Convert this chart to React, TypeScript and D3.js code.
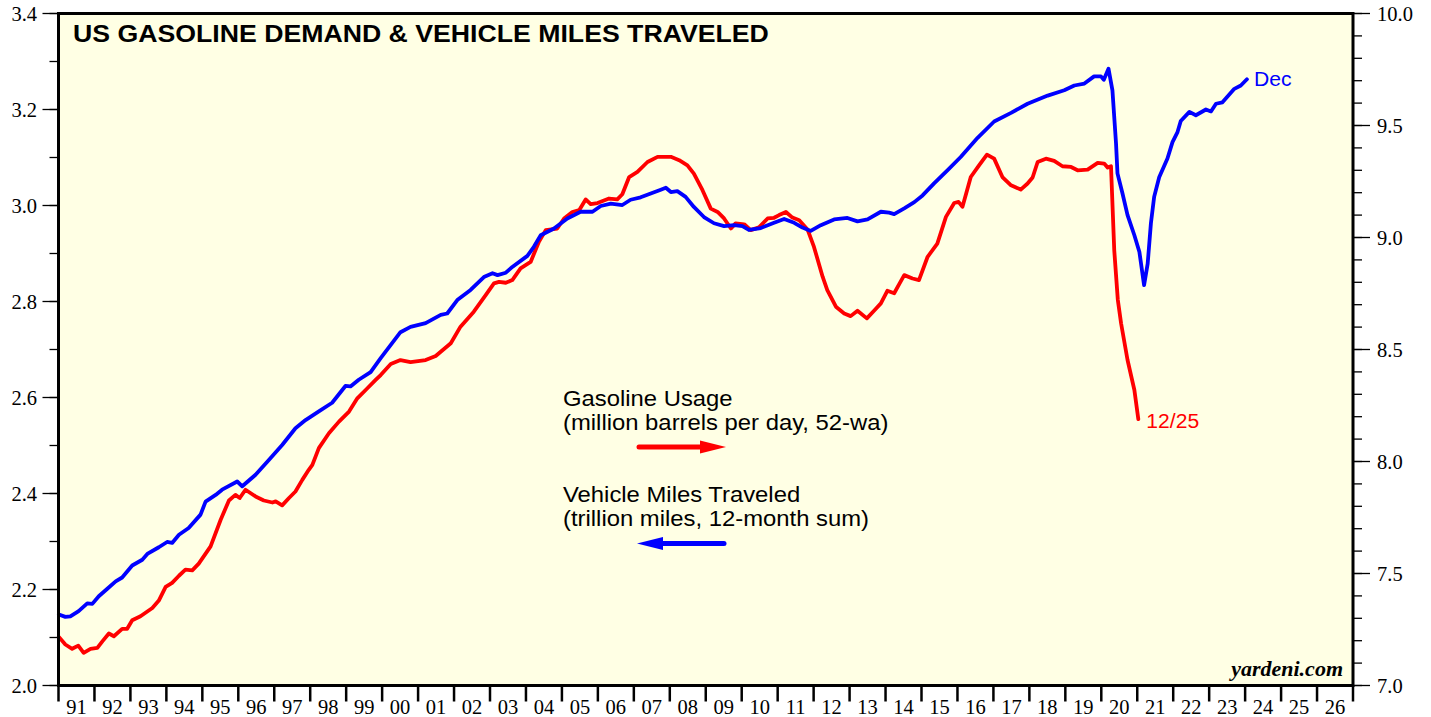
import React from "react";
import * as d3 from "d3";

const yearLabels = ["91","92","93","94","95","96","97","98","99","00","01","02","03","04","05","06","07","08","09","10","11","12","13","14","15","16","17","18","19","20","21","22","23","24","25","26"];
const firstYear = 1991;
const leftMajorTicks = [2.0, 2.2, 2.4, 2.6, 2.8, 3.0, 3.2, 3.4];
const rightMajorTicks = [7.0, 7.5, 8.0, 8.5, 9.0, 9.5, 10.0];

// Vehicle miles traveled (trillion miles, 12-month sum) — left axis
const vmtSeries: [number, number][] = [
  [1991.01,2.148],[1991.19,2.143],[1991.33,2.144],[1991.56,2.155],[1991.80,2.171],[1991.94,2.170],
  [1992.12,2.186],[1992.35,2.201],[1992.59,2.217],[1992.77,2.225],
  [1993.05,2.250],[1993.33,2.262],[1993.47,2.274],[1993.79,2.288],
  [1994.02,2.299],[1994.16,2.297],[1994.35,2.314],[1994.62,2.328],[1994.95,2.356],
  [1995.09,2.383],[1995.37,2.397],[1995.55,2.408],[1995.97,2.425],
  [1996.11,2.415],[1996.48,2.439],[1996.85,2.470],
  [1997.22,2.501],[1997.59,2.536],[1997.87,2.553],
  [1998.24,2.571],[1998.61,2.589],[1998.98,2.624],
  [1999.12,2.623],[1999.35,2.637],[1999.68,2.653],[1999.96,2.682],
  [2000.51,2.736],[2000.79,2.747],
  [2001.21,2.755],[2001.63,2.772],[2001.81,2.775],
  [2002.09,2.803],[2002.46,2.824],[2002.83,2.851],
  [2003.07,2.859],[2003.21,2.855],[2003.44,2.860],[2003.62,2.872],
  [2004.04,2.895],[2004.22,2.914],[2004.41,2.938],[2004.78,2.952],
  [2005.15,2.973],[2005.52,2.987],[2005.85,2.987],
  [2006.08,2.999],[2006.36,3.004],[2006.68,3.001],[2006.91,3.012],
  [2007.19,3.017],[2007.47,3.025],[2007.75,3.033],[2007.89,3.037],
  [2008.03,3.028],[2008.21,3.030],[2008.44,3.018],[2008.67,2.997],[2008.95,2.976],
  [2009.23,2.963],[2009.51,2.957],[2009.79,2.959],
  [2010.02,2.957],[2010.20,2.949],[2010.53,2.953],[2010.90,2.964],
  [2011.18,2.972],[2011.46,2.964],[2011.69,2.954],[2011.92,2.947],
  [2012.20,2.959],[2012.57,2.971],[2012.94,2.974],
  [2013.22,2.967],[2013.50,2.971],[2013.87,2.987],
  [2014.10,2.985],[2014.24,2.982],[2014.52,2.994],[2014.80,3.007],
  [2015.03,3.021],[2015.35,3.046],[2015.72,3.073],
  [2016.09,3.101],[2016.56,3.141],
  [2017.02,3.175],[2017.49,3.193],[2017.95,3.212],
  [2018.51,3.229],[2018.97,3.240],
  [2019.25,3.250],[2019.53,3.254],[2019.80,3.269],[2019.99,3.269],
  [2020.07,3.262],[2020.20,3.285],[2020.31,3.240],[2020.41,3.129],[2020.45,3.067],[2020.59,3.025],[2020.73,2.980],[2020.92,2.938],
  [2021.06,2.903],[2021.19,2.834],[2021.29,2.879],[2021.38,2.963],[2021.47,3.018],[2021.61,3.059],[2021.84,3.098],[2021.98,3.132],
  [2022.12,3.153],[2022.21,3.176],[2022.45,3.195],[2022.63,3.188],[2022.91,3.200],
  [2023.05,3.196],[2023.19,3.212],[2023.37,3.215],[2023.70,3.243],[2023.88,3.250],
  [2024.05,3.263]
];

// Gasoline usage (million barrels per day, 52-wa) — right axis
const gasSeries: [number, number][] = [
  [1991.01,7.217],[1991.19,7.183],[1991.38,7.164],[1991.55,7.178],[1991.70,7.146],[1991.89,7.164],
  [1992.08,7.168],[1992.22,7.197],[1992.40,7.232],[1992.54,7.220],[1992.77,7.253],[1992.91,7.253],
  [1993.05,7.291],[1993.28,7.309],[1993.61,7.346],[1993.79,7.379],[1993.98,7.440],
  [1994.16,7.458],[1994.35,7.490],[1994.53,7.517],[1994.72,7.514],[1994.90,7.544],
  [1995.23,7.621],[1995.51,7.740],[1995.74,7.826],[1995.92,7.851],
  [1996.04,7.837],[1996.20,7.874],[1996.48,7.844],[1996.71,7.826],[1996.95,7.817],
  [1997.04,7.822],[1997.22,7.804],[1997.41,7.837],[1997.59,7.866],[1997.78,7.918],[1997.96,7.963],
  [1998.06,7.985],[1998.24,8.060],[1998.52,8.126],[1998.80,8.178],
  [1999.08,8.223],[1999.31,8.282],[1999.59,8.327],[1999.82,8.364],[1999.96,8.386],
  [2000.24,8.435],[2000.51,8.453],[2000.79,8.444],
  [2001.21,8.453],[2001.49,8.471],[2001.63,8.490],[2001.91,8.528],
  [2002.18,8.602],[2002.55,8.669],[2002.88,8.743],
  [2003.11,8.795],[2003.25,8.802],[2003.44,8.798],[2003.62,8.810],[2003.85,8.862],
  [2004.13,8.891],[2004.36,8.981],[2004.55,9.033],[2004.87,9.040],
  [2005.06,9.085],[2005.29,9.114],[2005.48,9.122],[2005.66,9.170],[2005.80,9.149],[2005.99,9.154],
  [2006.31,9.174],[2006.54,9.170],[2006.68,9.193],[2006.87,9.270],
  [2007.10,9.293],[2007.38,9.337],[2007.66,9.360],
  [2008.03,9.360],[2008.26,9.345],[2008.49,9.322],[2008.67,9.285],[2008.91,9.211],
  [2009.14,9.129],[2009.33,9.114],[2009.51,9.085],[2009.70,9.040],[2009.83,9.063],
  [2010.07,9.059],[2010.25,9.033],[2010.48,9.045],[2010.72,9.085],[2010.90,9.088],
  [2011.04,9.100],[2011.23,9.114],[2011.41,9.089],[2011.60,9.077],[2011.83,9.036],
  [2012.01,8.958],[2012.25,8.825],[2012.38,8.765],[2012.62,8.691],[2012.85,8.661],
  [2013.03,8.649],[2013.22,8.673],[2013.48,8.639],[2013.68,8.673],[2013.87,8.706],
  [2014.05,8.762],[2014.24,8.751],[2014.38,8.792],[2014.52,8.832],[2014.75,8.817],[2014.93,8.810],
  [2015.17,8.914],[2015.44,8.973],[2015.68,9.092],[2015.91,9.154],
  [2016.03,9.159],[2016.14,9.137],[2016.37,9.270],[2016.60,9.322],[2016.82,9.370],
  [2017.02,9.352],[2017.25,9.270],[2017.49,9.233],[2017.76,9.214],[2017.95,9.241],
  [2018.09,9.268],[2018.23,9.337],[2018.46,9.352],[2018.69,9.342],[2018.92,9.318],
  [2019.16,9.315],[2019.34,9.300],[2019.62,9.303],[2019.90,9.333],
  [2020.08,9.330],[2020.18,9.312],[2020.27,9.318],[2020.36,8.944],[2020.46,8.721],[2020.55,8.617],[2020.73,8.453],[2020.92,8.319],
  [2021.03,8.189]
];

const W = 1431;
const H = 717;
const plot = { left: 58.5, right: 1353, top: 13.5, bottom: 685.5 };

const serif = "'Liberation Serif', 'Times New Roman', Times, serif";
const sans = "'Liberation Sans', Arial, Helvetica, sans-serif";

export default function App() {
  const x = d3.scaleLinear().domain([firstYear, firstYear + yearLabels.length]).range([plot.left, plot.right]);
  const yL = d3.scaleLinear().domain([2.0, 3.4]).range([plot.bottom, plot.top]);
  const yR = d3.scaleLinear().domain([7.0, 10.0]).range([plot.bottom, plot.top]);

  const lineL = d3.line<[number, number]>().x(d => x(d[0])).y(d => yL(d[1]));
  const lineR = d3.line<[number, number]>().x(d => x(d[0])).y(d => yR(d[1]));

  const leftMinor = d3.range(0, 15).map(i => 2.0 + i * 0.1);
  const rightMinor = d3.range(0, 31).map(i => 7.0 + i * 0.1);
  const yearTicks = d3.range(firstYear, firstYear + yearLabels.length + 1);

  const vmtLast = vmtSeries[vmtSeries.length - 1];
  const gasLast = gasSeries[gasSeries.length - 1];

  const sx = (px: number, py: number, k: number) => `translate(${px},${py}) scale(${k},1)`;

  return (
    <svg width={W} height={H} style={{ position: "absolute", left: 0, top: 0, background: "#fff" }}>
      <rect x={plot.left} y={plot.top} width={plot.right - plot.left} height={plot.bottom - plot.top} fill="#ffffe4" />

      {/* lines */}
      <path d={lineR(gasSeries) || ""} fill="none" stroke="#ff0000" strokeWidth={3.8} strokeLinejoin="round" strokeLinecap="round" />
      <path d={lineL(vmtSeries) || ""} fill="none" stroke="#0000ff" strokeWidth={3.8} strokeLinejoin="round" strokeLinecap="round" />

      {/* frame */}
      <rect x={plot.left} y={plot.top} width={plot.right - plot.left} height={plot.bottom - plot.top} fill="none" stroke="#000" strokeWidth={3} />

      {/* left axis */}
      {leftMinor.map((v, i) => (
        <line key={"lm" + i} x1={plot.left - 9} x2={plot.left} y1={yL(v)} y2={yL(v)} stroke="#000" strokeWidth={1.3} />
      ))}
      {leftMajorTicks.map(v => (
        <g key={"lM" + v}>
          <line x1={plot.left - 16} x2={plot.left} y1={yL(v)} y2={yL(v)} stroke="#000" strokeWidth={1.3} />
          <text x={37} y={yL(v) + 7} textAnchor="end" fontFamily={serif} fontSize={20.5} fill="#000">{v.toFixed(1)}</text>
        </g>
      ))}

      {/* right axis */}
      {rightMinor.map((v, i) => (
        <line key={"rm" + i} x1={plot.right} x2={plot.right + 9} y1={yR(v)} y2={yR(v)} stroke="#000" strokeWidth={1.3} />
      ))}
      {rightMajorTicks.map(v => (
        <g key={"rM" + v}>
          <line x1={plot.right} x2={plot.right + 17} y1={yR(v)} y2={yR(v)} stroke="#000" strokeWidth={1.3} />
          <text x={1377} y={yR(v) + 7} textAnchor="start" fontFamily={serif} fontSize={20.5} fill="#000">{v.toFixed(1)}</text>
        </g>
      ))}

      {/* bottom axis */}
      {yearTicks.map(t => (
        <line key={"xt" + t} x1={x(t)} x2={x(t)} y1={plot.bottom} y2={plot.bottom + 16} stroke="#000" strokeWidth={2.5} />
      ))}
      {yearLabels.map((lab, i) => (
        <text key={"xl" + lab} x={x(firstYear + i + 0.5)} y={714} textAnchor="middle" fontFamily={serif} fontSize={20.5} fill="#000">{lab}</text>
      ))}

      {/* title */}
      <text transform={sx(73, 42, 1.112)} fontFamily={sans} fontWeight="bold" fontSize={24} fill="#000">US GASOLINE DEMAND &amp; VEHICLE MILES TRAVELED</text>

      {/* legend */}
      <text transform={sx(563, 406, 1.06)} fontFamily={sans} fontSize={22.5} fill="#000">Gasoline Usage</text>
      <text transform={sx(563, 430, 1.06)} fontFamily={sans} fontSize={22.5} fill="#000">(million barrels per day, 52-wa)</text>
      <line x1={639} x2={705} y1={447} y2={447} stroke="#ff0000" strokeWidth={5} strokeLinecap="round" />
      <polygon points="700,440.5 726,447 700,453.5" fill="#ff0000" />

      <text transform={sx(563, 502, 1.06)} fontFamily={sans} fontSize={22.5} fill="#000">Vehicle Miles Traveled</text>
      <text transform={sx(563, 526, 1.06)} fontFamily={sans} fontSize={22.5} fill="#000">(trillion miles, 12-month sum)</text>
      <line x1={658} x2={724} y1={543.5} y2={543.5} stroke="#0000ff" strokeWidth={5} strokeLinecap="round" />
      <polygon points="663,537 637,543.5 663,550" fill="#0000ff" />

      {/* end labels */}
      <text transform={sx(x(vmtLast[0]) + 7, yL(vmtLast[1]) + 7, 1.03)} fontFamily={sans} fontSize={20.5} fill="#0000ff">Dec</text>
      <text transform={sx(x(gasLast[0]) + 8, yR(gasLast[1]) + 9, 1.03)} fontFamily={sans} fontSize={20.5} fill="#ff0000">12/25</text>

      {/* source */}
      <text x={1343} y={676} textAnchor="end" fontFamily={serif} fontStyle="italic" fontWeight="bold" fontSize={22} fill="#000">yardeni.com</text>
    </svg>
  );
}
